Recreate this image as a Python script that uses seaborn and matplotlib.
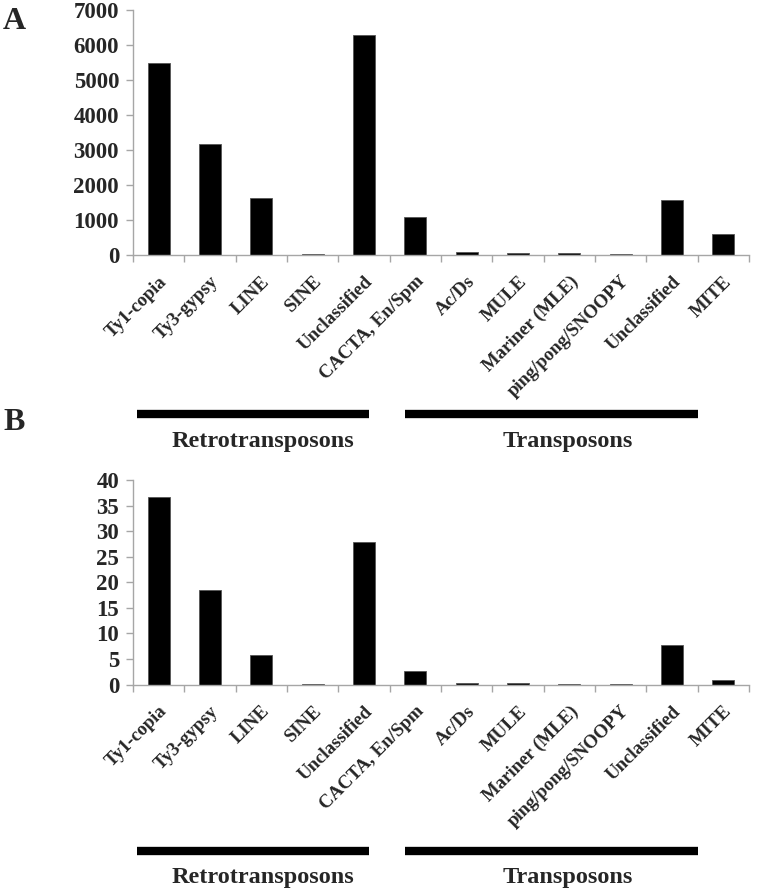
import numpy as np
import pandas as pd
import matplotlib
matplotlib.use("Agg")
import matplotlib.pyplot as plt
import seaborn as sns
from matplotlib.lines import Line2D

categories = ['Ty1-copia', 'Ty3-gypsy', 'LINE', 'SINE', 'Unclassified',
              'CACTA, En/Spm', 'Ac/Ds', 'MULE', 'Mariner (MLE)',
              'ping/pong/SNOOPY', 'Unclassified ', 'MITE']
tick_labels = ['Ty1-copia', 'Ty3-gypsy', 'LINE', 'SINE', 'Unclassified',
               'CACTA, En/Spm', 'Ac/Ds', 'MULE', 'Mariner (MLE)',
               'ping/pong/SNOOPY', 'Unclassified', 'MITE']
counts_a = [5500, 3160, 1630, 30, 6300, 1090, 90, 60, 50, 25, 1580, 610]
percent_b = [36.6, 18.4, 5.8, 0.1, 27.9, 2.7, 0.3, 0.3, 0.1, 0.1, 7.7, 1.0]
groups = ['Retrotransposons', 'Transposons']

sns.set_style("white")
plt.rcParams['font.family'] = ['Liberation Serif', 'DejaVu Serif']
plt.rcParams['font.weight'] = 'bold'

fig = plt.figure(figsize=(7.75, 8.94), dpi=100)
ax_a = fig.add_axes([0.1716, 0.7148, 0.7948, 0.274])
ax_b = fig.add_axes([0.1716, 0.2342, 0.7948, 0.2289])

grey = '#a6a6a6'


def draw_panel(ax, values, ymax, ystep):
    df = pd.DataFrame({'cat': categories, 'val': values})
    sns.barplot(data=df, x='cat', y='val', color='black', width=0.43,
                edgecolor='#555555', linewidth=0.6, ax=ax, saturation=1)
    ax.set_xlim(-0.5, len(categories) - 0.5)
    ax.set_ylim(0, ymax)
    ax.set_yticks(np.arange(0, ymax + 1, ystep))
    ax.set_yticklabels([str(int(v)) for v in np.arange(0, ymax + 1, ystep)],
                       fontsize=16.5, fontweight='bold')
    ax.set_xticks(range(len(categories)))
    ax.set_xticklabels(tick_labels, rotation=45, ha='right',
                       rotation_mode='anchor', fontsize=13.5,
                       fontweight='bold')
    ax.set_xticks(np.arange(-0.5, len(categories), 1), minor=True)
    ax.tick_params(axis='x', which='major', length=0, pad=13)
    ax.tick_params(axis='x', which='minor', length=5, color=grey, width=1,
                   direction='out', bottom=True)
    ax.tick_params(axis='y', length=5, color=grey, width=1, direction='out',
                   left=True, pad=5)
    for s in ['top', 'right']:
        ax.spines[s].set_visible(False)
    for s in ['left', 'bottom']:
        ax.spines[s].set_color(grey)
        ax.spines[s].set_linewidth(1)
    ax.set_xlabel('')
    ax.set_ylabel('')


draw_panel(ax_a, counts_a, 7000, 1000)
draw_panel(ax_b, percent_b, 40, 5)

# group bars and labels under each panel
for bar_y, text_y in [(0.5369, 0.5056), (0.0481, 0.019)]:
    fig.add_artist(Line2D([0.1768, 0.4761], [bar_y, bar_y], color='black',
                          linewidth=6, solid_capstyle='butt'))
    fig.add_artist(Line2D([0.5226, 0.9006], [bar_y, bar_y], color='black',
                          linewidth=6, solid_capstyle='butt'))
    fig.text(0.339, text_y, groups[0], ha='center', va='center',
             fontsize=17.5, fontweight='bold')
    fig.text(0.733, text_y, groups[1], ha='center', va='center',
             fontsize=17.5, fontweight='bold')

fig.text(0.004, 0.976, 'A', fontsize=23, fontweight='bold', va='center')
fig.text(0.004, 0.527, 'B', fontsize=23, fontweight='bold', va='center')

fig.savefig('out.png', dpi=100)
